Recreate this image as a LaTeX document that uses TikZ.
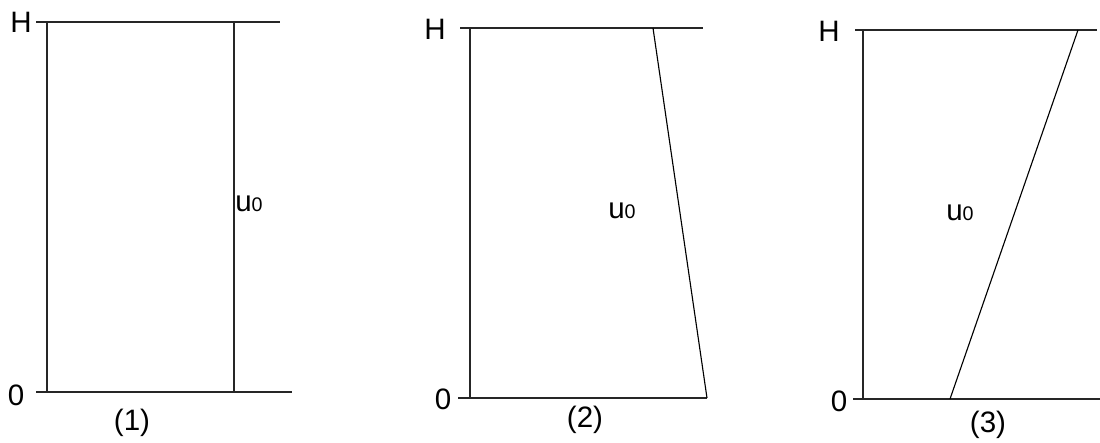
\documentclass[tikz,border=0pt]{standalone}
\usepackage{fontspec}
\setmainfont{Liberation Sans}
\begin{document}
\begin{tikzpicture}[
  x=0.025cm, y=-0.025cm,
  axis/.style={line width=1.4pt, draw=black!85},
  profile/.style={line width=0.8pt},
  lbl/.style={font=\fontsize{21}{25}\selectfont, inner sep=0pt},
  ulbl/.style={font=\fontsize{21}{25}\selectfont, inner sep=0pt, anchor=center}
]
  \useasboundingbox (0,0) rectangle (1100,442);
  % panel (1)
  \coordinate (p1t) at (47,22);
  \coordinate (p1b) at (47,392);
  \coordinate (p1tl) at (36,22);
  \coordinate (p1tr) at (280,22);
  \coordinate (p1bl) at (36,392);
  \coordinate (p1br) at (292,392);
  \coordinate (p1ut) at (234,22);
  \coordinate (p1ub) at (234,392);
  \node[lbl] (h1) at (21,22) {H};
  \node[lbl] (z1) at (16,395) {0};
  \node[ulbl] (u1) at (249,204) {u{\fontsize{14}{16}\selectfont 0}};
  \node[lbl] (c1) at (132,423) {(1)};
  \draw[axis] (p1t) -- (p1b);
  \draw[axis] (p1tl) -- (p1tr);
  \draw[axis] (p1bl) -- (p1br);
  \draw[axis] (p1ut) -- (p1ub);
  % panel (2)
  \coordinate (p2t) at (470,28);
  \coordinate (p2b) at (470,398);
  \coordinate (p2tl) at (460,28);
  \coordinate (p2tr) at (703,28);
  \coordinate (p2bl) at (458,398);
  \coordinate (p2br) at (707,398);
  \coordinate (p2ut) at (653,28);
  \coordinate (p2ub) at (707,398);
  \node[lbl] (h2) at (435,29) {H};
  \node[lbl] (z2) at (443,399) {0};
  \node[ulbl] (u2) at (622,211) {u{\fontsize{14}{16}\selectfont 0}};
  \node[lbl] (c2) at (585,420) {(2)};
  \draw[axis] (p2t) -- (p2b);
  \draw[axis] (p2tl) -- (p2tr);
  \draw[axis] (p2bl) -- (p2br);
  \draw[profile] (p2ut) -- (p2ub);
  % panel (3)
  \coordinate (p3t) at (863,30);
  \coordinate (p3b) at (863,399);
  \coordinate (p3tl) at (855,30);
  \coordinate (p3tr) at (1097,30);
  \coordinate (p3bl) at (853,399);
  \coordinate (p3br) at (1100,399);
  \coordinate (p3ut) at (1078,30);
  \coordinate (p3ub) at (950,399);
  \node[lbl] (h3) at (829,31) {H};
  \node[lbl] (z3) at (839,401) {0};
  \node[ulbl] (u3) at (960,213) {u{\fontsize{14}{16}\selectfont 0}};
  \node[lbl] (c3) at (988,425) {(3)};
  \draw[axis] (p3t) -- (p3b);
  \draw[axis] (p3tl) -- (p3tr);
  \draw[axis] (p3bl) -- (p3br);
  \draw[profile] (p3ub) -- (p3ut);
\end{tikzpicture}
\end{document}
